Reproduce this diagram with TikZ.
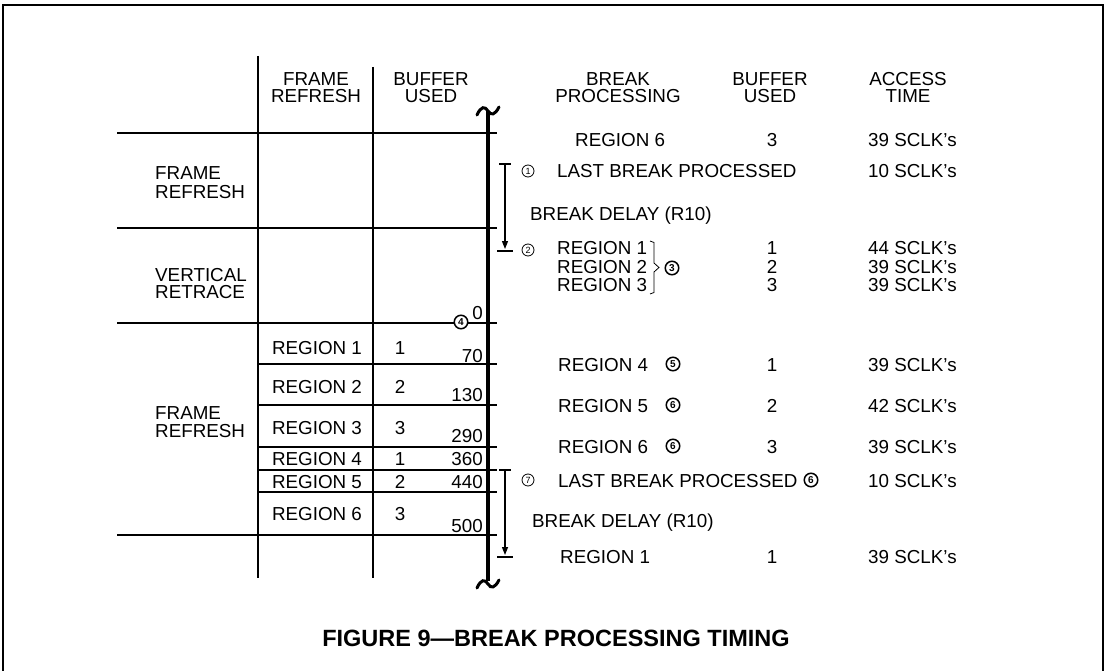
\documentclass[tikz,border=0pt]{standalone}
\usepackage{fontspec}
\setmainfont{Liberation Sans}
\usetikzlibrary{arrows.meta}
\begin{document}
\begin{tikzpicture}[x=1pt,y=-1pt,
  txt/.style={inner sep=0pt, font=\fontsize{18.8}{22}\selectfont},
  lt/.style={txt, anchor=base west},
  ct/.style={txt, anchor=base},
  rt/.style={txt, anchor=base east},
  rule/.style={line width=1.7pt},
  spine/.style={line width=4.8pt},
  wave/.style={line width=3pt, line cap=round},
  cnum/.style={circle, draw, inner sep=0pt, minimum size=12pt, fill=white, line width=0.8pt, font=\fontsize{9}{9}\selectfont},
  cnumb/.style={cnum, minimum size=13.5pt, line width=1.5pt, font=\fontsize{10}{10}\selectfont\bfseries},
  delay/.style={line width=1.3pt},
  tip/.style={-{Triangle[length=8pt,width=6pt]}}
]
\useasboundingbox (0,0) rectangle (1105,671);
% outer frame
\draw[line width=2pt] (3,671) -- (3,5) -- (1103,5) -- (1103,671);

% grid lines
\draw[rule] (117,133) -- (497,133);
\draw[rule] (117,228) -- (497,228);
\draw[rule] (117,323) -- (497,323);
\draw[rule] (258,364) -- (497,364);
\draw[rule] (258,405) -- (497,405);
\draw[rule] (258,447) -- (497,447);
\draw[rule] (258,470) -- (497,470);
\draw[rule] (258,492) -- (497,492);
\draw[rule] (117,535) -- (497,535);
\draw[rule] (258,56) -- (258,578);
\draw[rule] (373,67) -- (373,578);
\draw[spine] (488,111) -- (488,581);
\draw[wave] (477,115) .. controls (481,106) and (485,106) .. (488,111) .. controls (491,116) and (495,115) .. (499,107);
\draw[wave] (477,588) .. controls (481,579) and (485,579) .. (488,584) .. controls (491,589) and (495,588) .. (499,580);

% headers
\node[ct] (hfr1) at (316,85.5) {FRAME};
\node[ct] (hfr2) at (316,103) {REFRESH};
\node[ct] (hbu1) at (431,85.5) {BUFFER};
\node[ct] (hbu2) at (431,103) {USED};
\node[ct] (hbp1) at (618,85.5) {BREAK};
\node[ct] (hbp2) at (618,103) {PROCESSING};
\node[ct] (hbr1) at (770,85.5) {BUFFER};
\node[ct] (hbr2) at (770,103) {USED};
\node[ct] (hat1) at (908,85.5) {ACCESS};
\node[ct] (hat2) at (908,103) {TIME};

% left labels
\node[lt] (lf1) at (155,180) {FRAME};
\node[lt] (lf2) at (155,198) {REFRESH};
\node[lt] (lv1) at (155,281) {VERTICAL};
\node[lt] (lv2) at (155,298.5) {RETRACE};
\node[lt] (lg1) at (155,419.5) {FRAME};
\node[lt] (lg2) at (155,437) {REFRESH};

% table regions
\node[ct] (r1) at (317,354) {REGION 1};
\node[ct] (b1) at (400,354) {1};
\node[rt] (a1) at (483,362) {70};
\node[ct] (r2) at (317,393) {REGION 2};
\node[ct] (b2) at (400,393) {2};
\node[rt] (a2) at (483,401.5) {130};
\node[ct] (r3) at (317,434) {REGION 3};
\node[ct] (b3) at (400,434) {3};
\node[rt] (a3) at (483,442.5) {290};
\node[ct] (r4) at (317,465) {REGION 4};
\node[ct] (b4) at (400,465) {1};
\node[rt] (a4) at (483,465) {360};
\node[ct] (r5) at (317,488) {REGION 5};
\node[ct] (b5) at (400,488) {2};
\node[rt] (a5) at (483,488) {440};
\node[ct] (r6) at (317,520) {REGION 6};
\node[ct] (b6) at (400,520) {3};
\node[rt] (a6) at (483,532) {500};
\node[rt] (a0) at (483,319) {0};
\node[cnumb] (c4) at (461,322) {4};

% delay arrows
\coordinate (ua) at (505,164);
\coordinate (ub) at (505,249);
\draw[delay] (499,164) -- (511,164);
\draw[delay,tip] (ua) -- (ub);
\draw[delay] (497,251) -- (513,251);
\coordinate (la) at (505,470);
\coordinate (lb) at (505,555);
\draw[delay] (499,470) -- (511,470);
\draw[delay,tip] (la) -- (lb);
\draw[delay] (497,557) -- (513,557);

% right side
\node[lt] (p0) at (575,147) {REGION 6};
\node[ct] (q0) at (772,147) {3};
\node[lt] (t0) at (868,147) {39 SCLK’s};

\node[cnum] (c1) at (528,171) {1};
\node[lt] (p1) at (557,178) {LAST BREAK PROCESSED};
\node[lt] (t1) at (868,178) {10 SCLK’s};
\node[lt] (d1) at (530,220) {BREAK DELAY (R10)};

\node[cnum] (c2) at (528,250) {2};
\node[lt] (p2) at (557,254.5) {REGION 1};
\node[ct] (q2) at (772,254.5) {1};
\node[lt] (t2) at (868,254.5) {44 SCLK’s};
\node[lt] (p3) at (557,273) {REGION 2};
\node[ct] (q3) at (772,273) {2};
\node[lt] (t3) at (868,273) {39 SCLK’s};
\node[lt] (p4) at (557,291.5) {REGION 3};
\node[ct] (q4) at (772,291.5) {3};
\node[lt] (t4) at (868,291.5) {39 SCLK’s};
\draw[line width=0.8pt] (650,241) -- (654,242.5) -- (654,263) -- (659,267.5) -- (654,272) -- (654,292.5) -- (650,294);
\node[cnumb] (c3) at (672,268) {3};

\node[lt] (p5) at (558,371) {REGION 4};
\node[cnumb] (c5) at (673,364) {5};
\node[ct] (q5) at (772,371) {1};
\node[lt] (t5) at (868,371) {39 SCLK’s};
\node[lt] (p6) at (558,412) {REGION 5};
\node[cnumb] (c6a) at (673,405) {6};
\node[ct] (q6) at (772,412) {2};
\node[lt] (t6) at (868,412) {42 SCLK’s};
\node[lt] (p7) at (558,453) {REGION 6};
\node[cnumb] (c6b) at (673,446) {6};
\node[ct] (q7) at (772,453) {3};
\node[lt] (t7) at (868,453) {39 SCLK’s};

\node[cnum] (c7) at (528,480) {7};
\node[lt] (p8) at (558,487) {LAST BREAK PROCESSED};
\node[cnumb] (c6c) at (811,480) {6};
\node[lt] (t8) at (868,487) {10 SCLK’s};
\node[lt] (d2) at (532,527) {BREAK DELAY (R10)};
\node[lt] (p9) at (560,563) {REGION 1};
\node[ct] (q9) at (772,563) {1};
\node[lt] (t9) at (868,563) {39 SCLK’s};

% title
\node[inner sep=0pt, anchor=base, font=\fontsize{23.5}{26}\selectfont\bfseries] (title) at (556,646) {FIGURE 9—BREAK PROCESSING TIMING};
\end{tikzpicture}
\end{document}
